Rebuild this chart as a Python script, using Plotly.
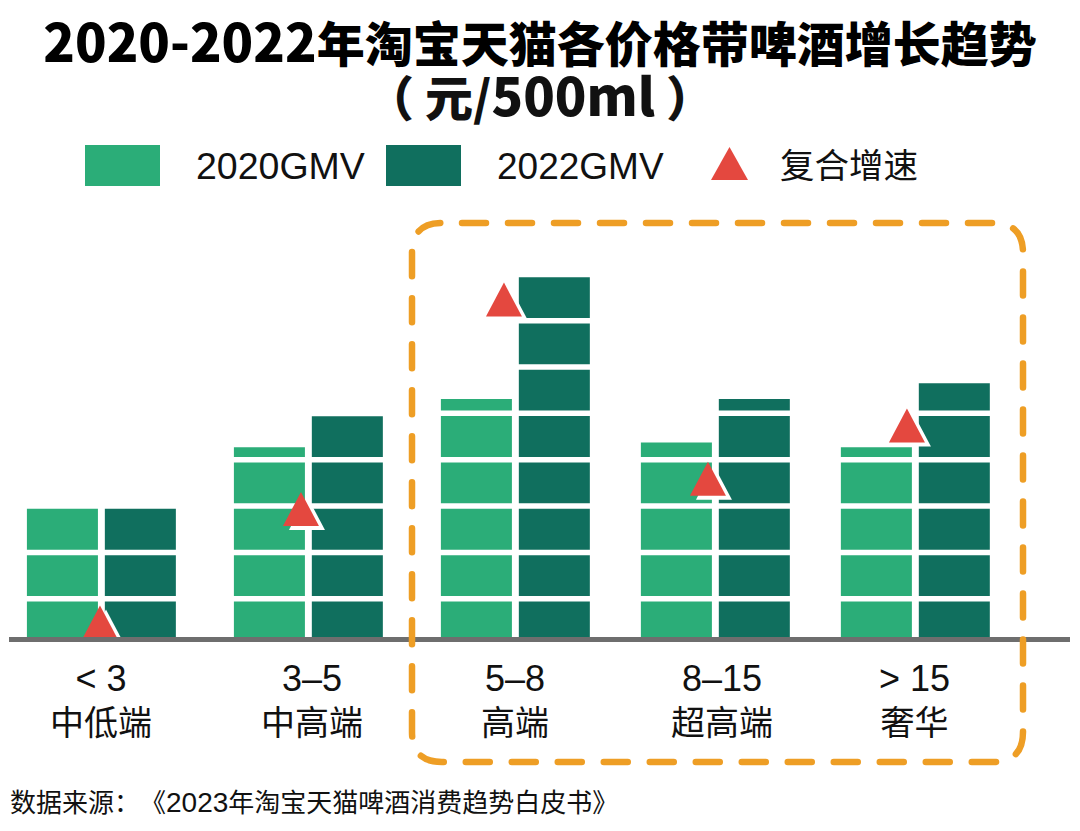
import plotly.graph_objects as go

W, H = 1080, 831
SANS = "Liberation Sans, Noto Sans CJK SC"
HEAVY = "Noto Sans CJK SC"

# data (one unit = one white band spacing)
categories = ["<3", "3-5", "5-8", "8-15", ">15"]
price_labels = ["&lt; 3", "3–5", "5–8", "8–15", "&gt; 15"]
tiers = ["中低端", "中高端", "高端", "超高端", "奢华"]
gmv_2020 = [2.84, 4.15, 5.19, 4.25, 4.15]
gmv_2022 = [2.84, 4.82, 7.82, 5.19, 5.53]
growth = [0.0, 2.45, 6.97, 3.10, 4.25]
band_levels = [0.88, 1.88, 2.88, 3.88, 4.88, 5.88, 6.88]

GREEN = "#2BAD78"
DARK = "#106F5E"
RED = "#E4483F"
ORANGE = "#EE9E25"

# the groups are not quite evenly spread in the original
group_nudge = [0, 0.0172, 0.0344, 0.0172, 0]
label_shift = [0, 8, 7, 11, 0]
triangle_shift = [-1, -3.5, -4, -3.5, -8]


def fx(px):
    return px / W


def fy(px):
    return 1 - px / H


def latin(text, size):
    #the latin glyphs of the original are larger than its CJK ones
    return '<span style="font-size:{}px">{}</span>'.format(size, text)


def triangle(cat, value, dx, color, sx=0, sy=0):
    #bottom centre of the triangle sits on the value
    path = "M{},{} L{},{} L{},{} Z".format(dx + sx - 18, sy, dx + sx + 18, sy, dx + sx, sy + 34)
    return dict(type="path", path=path, xsizemode="pixel", ysizemode="pixel",
                xref="x", yref="y", xanchor=cat, yanchor=value,
                fillcolor=color, line=dict(width=0), layer="above")


def rounded_rect(x0, y0, x1, y1, r, start):
    #starts on the top edge so the dashes fall where they do in the original
    return ("M{s},{t} L{b},{t} Q{x1},{t} {x1},{c} L{x1},{d} Q{x1},{bot} {b},{bot} "
            "L{a},{bot} Q{x0},{bot} {x0},{d} L{x0},{c} Q{x0},{t} {a},{t} L{s},{t}").format(
        s=fx(start), a=fx(x0 + r), b=fx(x1 - r), c=fy(y0 + r), d=fy(y1 - r),
        x0=fx(x0), x1=fx(x1), t=fy(y0), bot=fy(y1))


fig = go.Figure()
fig.add_trace(go.Bar(x=categories, y=gmv_2020, name="2020GMV", marker_color=GREEN, marker_line_width=0,
                     width=0.349, offset=[-0.364 + n for n in group_nudge]))
fig.add_trace(go.Bar(x=categories, y=gmv_2022, name="2022GMV", marker_color=DARK, marker_line_width=0,
                     width=0.349, offset=[0.019 + n for n in group_nudge]))

shapes = []
#white bands run over the bars
for level in band_levels:
    shapes.append(dict(type="line", xref="paper", yref="y", x0=0, x1=1, y0=level, y1=level,
                       line=dict(color="white", width=5.5), layer="above"))
#white offset copy first, then the red triangle
for cat, val, dx in zip(categories, growth, triangle_shift):
    shapes.append(triangle(cat, val, dx, "white", sx=6, sy=-4))
for cat, val, dx in zip(categories, growth, triangle_shift):
    shapes.append(triangle(cat, val, dx, RED))
#dashed frame
shapes.append(dict(type="path", xref="paper", yref="paper", path=rounded_rect(412, 223, 1023, 762, 30, 462),
                   line=dict(color=ORANGE, width=6.5, dash="24px,22px"), layer="above"))
#legend swatches
shapes.append(dict(type="rect", xref="paper", yref="paper", x0=fx(85), x1=fx(160), y0=fy(145), y1=fy(186),
                   fillcolor=GREEN, line=dict(width=0), layer="above"))
shapes.append(dict(type="rect", xref="paper", yref="paper", x0=fx(386), x1=fx(461), y0=fy(145), y1=fy(186),
                   fillcolor=DARK, line=dict(width=0), layer="above"))
shapes.append(dict(type="path", xref="paper", yref="paper",
                   path="M{},{} L{},{} L{},{} Z".format(fx(711), fy(180), fx(748), fy(180), fx(729.5), fy(147)),
                   fillcolor=RED, line=dict(width=0), layer="above"))

annotations = []
for cat, price, tier, shift in zip(categories, price_labels, tiers, label_shift):
    annotations.append(dict(x=cat, y=fy(700), xref="x", yref="paper", xshift=shift, yanchor="middle",
                            text=latin(price, 36) + "<br>" + tier,
                            showarrow=False, font=dict(size=34, color="#111111", family=SANS)))


def note(text, x, y, size, anchor="left", family=SANS, weight="normal"):
    annotations.append(dict(x=fx(x), y=fy(y), xref="paper", yref="paper", xanchor=anchor, yanchor="middle",
                            text=text, showarrow=False,
                            font=dict(size=size, color="#111111", family=family, weight=weight)))


note("（ 元/" + latin("500ml", 52) + " ）", 540, 93, 48, anchor="center", family=HEAVY, weight=900)
note("2020GMV", 194, 166, 37.5)
note("2022GMV", 495, 166, 37)
note("复合增速", 778, 166, 34.5)
note("数据来源：\u200b《" + latin("2023", 28) + "年淘宝天猫啤酒消费趋势白皮书》", 8, 802, 26)

fig.update_layout(
    width=W, height=H,
    margin=dict(l=0, r=0, t=0, b=0),
    paper_bgcolor="white", plot_bgcolor="white",
    barmode="overlay",
    showlegend=False,
    title=dict(text=latin("2020-2022", 52) + "年淘宝天猫各价格带啤酒增长趋势",
               x=0.5, xanchor="center", xref="paper",
               y=fy(45), yanchor="middle", yref="paper",
               font=dict(size=48, color="#000000", family=HEAVY, weight=900)),
    xaxis=dict(type="category", categoryorder="array", categoryarray=categories,
               domain=[fx(9), fx(1070)], range=[-0.452, 4.762],
               showgrid=False, showticklabels=False, ticks="", zeroline=False,
               showline=True, linecolor="#6E6E6E", linewidth=5),
    yaxis=dict(domain=[fy(637), fy(222)], range=[0.054, 9.01],
               visible=False, showgrid=False, zeroline=False),
    shapes=shapes,
    annotations=annotations,
)

post = """
document.body.style.margin = '0';
document.querySelectorAll('.shapelayer path').forEach(function (p) {
    if (p.style.strokeDasharray && p.style.strokeDasharray !== 'none') p.style.strokeLinecap = 'round';
});
"""
fig.write_html("out.html", post_script=post, config={"displayModeBar": False})
